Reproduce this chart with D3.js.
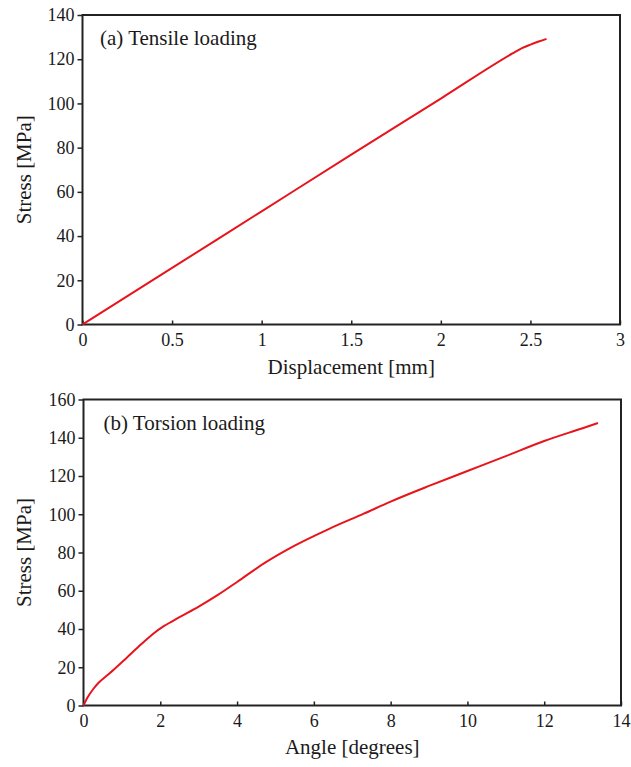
<!DOCTYPE html>
<html>
<head>
<meta charset="utf-8">
<script src="https://cdn.jsdelivr.net/npm/d3@7"></script>
<style>
  body { margin: 0; background: #fff; }
  svg { display: block; }
  text { font-family: "Liberation Serif", "DejaVu Serif", serif; fill: #1a1a1a; }
</style>
</head>
<body>
<div id="app"></div>
<script>
// (a) tensile test: displacement [mm] vs stress [MPa]
const tensileDisp   = [0, 0.5, 1, 1.5, 2, 2.4, 2.45, 2.5, 2.55, 2.59]
const tensileStress = [0, 25.6, 51.2, 76.8, 102.2, 122.6, 124.9, 126.6, 128.1, 129.2]
const tensileXTicks = [0, 0.5, 1, 1.5, 2, 2.5, 3]
const tensileYTicks = [0, 20, 40, 60, 80, 100, 120, 140]

// (b) torsion test: angle [degrees] vs stress [MPa]
const torsionAngle  = [0, 0.1, 0.25, 0.4, 0.6, 0.8, 1.1, 1.5, 1.8, 2.1, 2.5, 3, 3.5, 4, 4.7, 5.5, 6.4, 7.3, 8, 9, 10, 11, 12, 13, 13.4]
const torsionStress = [0, 4, 8.5, 12, 15.5, 19, 24.5, 32, 37.3, 41.6, 46.2, 51.7, 57.8, 64.6, 74.3, 83.6, 92.4, 100.3, 106.6, 114.8, 122.6, 130.4, 138.3, 145, 147.7]
const torsionXTicks = [0, 2, 4, 6, 8, 10, 12, 14]
const torsionYTicks = [0, 20, 40, 60, 80, 100, 120, 140, 160]

const lineColor = "#e8141c"

const svg = d3.select('#app').append('svg')
    .attr('width', 631)
    .attr('height', 767)

const panels = [
  {
    x: tensileDisp, y: tensileStress, xTicks: tensileXTicks, yTicks: tensileYTicks,
    xMax: 3, yMax: 140,
    left: 82.5, right: 620, top: 15, bottom: 324.5,
    label: "(a) Tensile loading", labelDx: 17.5,
    xTitle: "Displacement [mm]", yTitle: "Stress [MPa]", xTitleY: 374
  },
  {
    x: torsionAngle, y: torsionStress, xTicks: torsionXTicks, yTicks: torsionYTicks,
    xMax: 14, yMax: 160,
    left: 83.5, right: 621, top: 399.5, bottom: 705.5,
    label: "(b) Torsion loading", labelDx: 20,
    xTitle: "Angle [degrees]", yTitle: "Stress [MPa]", xTitleY: 754
  }
]

panels.forEach(p => {
  const x = d3.scaleLinear().domain([0, p.xMax]).range([p.left, p.right])
  const y = d3.scaleLinear().domain([0, p.yMax]).range([p.bottom, p.top])
  const g = svg.append('g')

  // x axis, ticks pointing inward
  const xa = g.append('g')
      .attr('transform', `translate(0,${p.bottom})`)
      .call(d3.axisBottom(x).tickValues(p.xTicks).tickSize(-4).tickSizeOuter(0).tickPadding(9)
        .tickFormat(d3.format('~g')))
  xa.select('.domain').remove()
  xa.selectAll('line').attr('stroke', '#222').attr('stroke-width', 1.5)
  xa.selectAll('text').attr('font-size', 18).attr('dy', '0.71em').attr('fill', '#1a1a1a')
    .style('font-family', '"Liberation Serif", serif')

  // y axis, ticks pointing outward
  const ya = g.append('g')
      .attr('transform', `translate(${p.left},0)`)
      .call(d3.axisLeft(y).tickValues(p.yTicks).tickSize(5).tickSizeOuter(0).tickPadding(3))
  ya.select('.domain').remove()
  ya.selectAll('line').attr('stroke', '#222').attr('stroke-width', 1.5)
  ya.selectAll('text').attr('font-size', 18).attr('fill', '#1a1a1a')
    .style('font-family', '"Liberation Serif", serif')

  // frame
  g.append('rect')
      .attr('x', p.left).attr('y', p.top)
      .attr('width', p.right - p.left).attr('height', p.bottom - p.top)
      .attr('fill', 'none').attr('stroke', '#222').attr('stroke-width', 2)

  // curve
  const pts = p.x.map((v, i) => [v, p.y[i]])
  g.append('path')
      .datum(pts)
      .attr('fill', 'none')
      .attr('stroke', lineColor)
      .attr('stroke-width', 2)
      .attr('stroke-linejoin', 'round')
      .attr('d', d3.line().x(d => x(d[0])).y(d => y(d[1])).curve(d3.curveMonotoneX))

  // inset label
  g.append('text')
      .attr('x', p.left + p.labelDx).attr('y', p.top + 30)
      .attr('font-size', 21)
      .text(p.label)

  // axis titles
  g.append('text')
      .attr('x', (p.left + p.right) / 2).attr('y', p.xTitleY)
      .attr('text-anchor', 'middle')
      .attr('font-size', 21)
      .text(p.xTitle)

  g.append('text')
      .attr('transform', `translate(31,${(p.top + p.bottom) / 2}) rotate(-90)`)
      .attr('text-anchor', 'middle')
      .attr('font-size', 21)
      .text(p.yTitle)
})
</script>
</body>
</html>
